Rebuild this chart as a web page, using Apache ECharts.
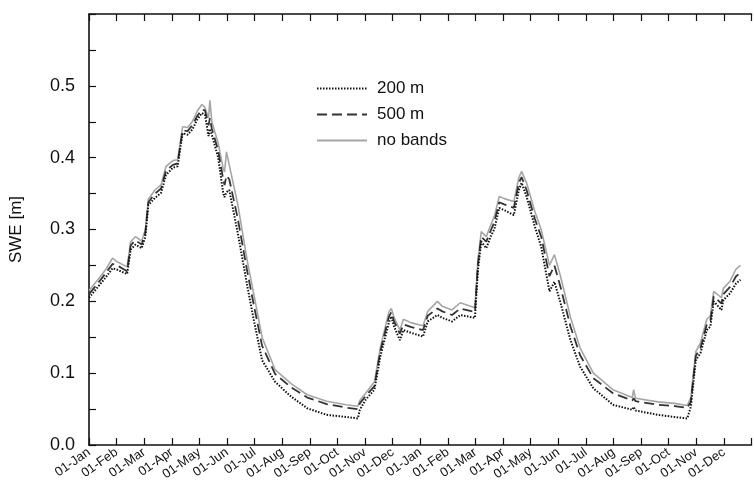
<!DOCTYPE html>
<html>
<head>
<meta charset="utf-8">
<script src="https://cdn.jsdelivr.net/npm/echarts@6/dist/echarts.min.js"></script>
<style>
  html, body { margin: 0; padding: 0; background: #fff; }
  #main { width: 754px; height: 492px; }
</style>
</head>
<body>
<div id="main"></div>
<script>
// x positions in months since 01-Jan of the first year
const months = [0, 0.32, 0.62, 0.85, 1.02, 1.38, 1.51, 1.68, 1.91, 2.04, 2.15, 2.39, 2.61, 2.79, 3.04, 3.21, 3.39, 3.57, 3.74, 3.92,
  4.09, 4.2, 4.33, 4.38, 4.45, 4.68, 4.86, 4.91, 4.98, 5.08, 5.39, 5.74, 5.97, 6.27, 6.74, 7.33, 7.91, 8.61, 9.32, 9.74,
  9.81, 10.02, 10.34, 10.55, 10.86, 10.95, 11.05, 11.26, 11.39, 11.68, 12.1, 12.27, 12.62, 12.8, 13.15, 13.45, 13.98, 14.09, 14.21, 14.39,
  14.57, 14.68, 14.86, 15.04, 15.39, 15.57, 15.67, 15.85, 16.15, 16.38, 16.68, 16.86, 17.08, 17.44, 17.79, 18.27, 18.98, 19.68, 19.73, 19.8,
  20.61, 21.21, 21.67, 21.8, 21.98, 22.15, 22.38, 22.51, 22.63, 22.91, 22.98, 23.22, 23.44, 23.6]

// SWE [m] for 200 m bands
const swe200 = [0.205, 0.22, 0.234, 0.246, 0.244, 0.238, 0.272, 0.279, 0.274, 0.29, 0.334, 0.344, 0.351, 0.376, 0.386, 0.388, 0.434, 0.432, 0.439, 0.453,
  0.462, 0.46, 0.43, 0.44, 0.432, 0.40, 0.351, 0.345, 0.352, 0.355, 0.295, 0.22, 0.174, 0.118, 0.088, 0.067, 0.051, 0.042, 0.039, 0.037,
  0.049, 0.063, 0.077, 0.123, 0.17, 0.179, 0.165, 0.146, 0.16, 0.156, 0.151, 0.172, 0.181, 0.177, 0.172, 0.181, 0.177, 0.244, 0.283, 0.274,
  0.292, 0.30, 0.33, 0.327, 0.32, 0.355, 0.365, 0.346, 0.304, 0.276, 0.214, 0.227, 0.198, 0.146, 0.109, 0.079, 0.056, 0.049, 0.053, 0.048,
  0.042, 0.039, 0.037, 0.053, 0.118, 0.128, 0.16, 0.165, 0.2, 0.188, 0.202, 0.211, 0.225, 0.23]

// SWE [m] for 500 m bands
const swe500 = [0.21, 0.225, 0.24, 0.252, 0.25, 0.242, 0.278, 0.285, 0.279, 0.295, 0.338, 0.35, 0.357, 0.382, 0.39, 0.392, 0.438, 0.437, 0.445, 0.458,
  0.467, 0.466, 0.445, 0.455, 0.44, 0.41, 0.37, 0.362, 0.375, 0.37, 0.315, 0.24, 0.195, 0.138, 0.099, 0.08, 0.066, 0.057, 0.052, 0.05,
  0.058, 0.068, 0.082, 0.13, 0.178, 0.185, 0.172, 0.155, 0.168, 0.164, 0.16, 0.18, 0.19, 0.186, 0.181, 0.19, 0.185, 0.252, 0.29, 0.283,
  0.30, 0.31, 0.338, 0.335, 0.33, 0.365, 0.373, 0.355, 0.315, 0.29, 0.235, 0.25, 0.22, 0.165, 0.125, 0.093, 0.072, 0.062, 0.065, 0.061,
  0.056, 0.054, 0.052, 0.06, 0.124, 0.135, 0.168, 0.173, 0.207, 0.197, 0.21, 0.22, 0.235, 0.24]

// SWE [m] without elevation bands
const sweNoBands = [0.215, 0.23, 0.245, 0.26, 0.255, 0.248, 0.283, 0.29, 0.284, 0.30, 0.342, 0.355, 0.362, 0.388, 0.396, 0.397, 0.443, 0.442, 0.45, 0.465,
  0.474, 0.47, 0.455, 0.48, 0.45, 0.42, 0.385, 0.38, 0.408, 0.39, 0.335, 0.255, 0.21, 0.15, 0.105, 0.085, 0.07, 0.061, 0.056, 0.054,
  0.062, 0.072, 0.088, 0.135, 0.185, 0.19, 0.178, 0.16, 0.175, 0.17, 0.166, 0.186, 0.2, 0.193, 0.188, 0.198, 0.191, 0.258, 0.297, 0.29,
  0.308, 0.318, 0.346, 0.343, 0.339, 0.372, 0.381, 0.365, 0.325, 0.30, 0.25, 0.265, 0.235, 0.178, 0.135, 0.1, 0.077, 0.066, 0.077, 0.065,
  0.06, 0.058, 0.055, 0.066, 0.13, 0.142, 0.175, 0.18, 0.214, 0.205, 0.218, 0.228, 0.245, 0.25]

const monthNames = ["Jan", "Feb", "Mar", "Apr", "May", "Jun", "Jul", "Aug", "Sep", "Oct", "Nov", "Dec"]
const seriesNames = ["200 m", "500 m", "no bands"]

const pairs = (ys) => months.map((m, i) => [m, ys[i]])

const font = "Liberation Sans, Arial, sans-serif"
const chart = echarts.init(document.getElementById("main"))

const option = {
  animation: false,
  textStyle: { fontFamily: font },
  grid: { left: 89, top: 14, bottom: 47, right: -15 },
  legend: {
    orient: "vertical",
    left: 311,
    top: 75,
    itemWidth: 50,
    itemHeight: 14,
    itemGap: 9,
    data: seriesNames,
    textStyle: { fontSize: 17, color: "#111", fontFamily: font, padding: [0, 0, 0, 5] }
  },
  xAxis: [
    {
      type: "value",
      min: 0,
      max: 24,
      interval: 1,
      axisLine: { lineStyle: { color: "#111", width: 1.6 } },
      axisTick: { inside: true, length: 7, lineStyle: { color: "#111", width: 1.2 } },
      splitLine: { show: false },
      axisLabel: {
        rotate: 35,
        margin: 6,
        fontSize: 13,
        color: "#111",
        formatter: (v) => (v < 23.5 ? "01-" + monthNames[Math.round(v) % 12] : "")
      }
    },
    {
      type: "value",
      position: "top",
      min: 0,
      max: 24,
      interval: 1,
      axisLine: { lineStyle: { color: "#111", width: 1.6 } },
      axisTick: { inside: true, length: 7, lineStyle: { color: "#111", width: 1.2 } },
      splitLine: { show: false },
      axisLabel: { show: false }
    }
  ],
  yAxis: {
    type: "value",
    min: 0,
    max: 0.6,
    interval: 0.05,
    name: "SWE [m]",
    nameLocation: "middle",
    nameGap: 64,
    nameTextStyle: { fontSize: 17, color: "#111" },
    axisLine: { show: true, lineStyle: { color: "#111", width: 1.6 } },
    axisTick: { inside: true, length: 7, lineStyle: { color: "#111", width: 1.2 } },
    splitLine: { show: false },
    axisLabel: {
      fontSize: 18,
      color: "#111",
      margin: 14,
      formatter: (v) => {
        const k = Math.round(v * 100)
        return k % 10 === 0 && k < 60 ? (k / 100).toFixed(1) : ""
      }
    }
  },
  series: [
    {
      name: seriesNames[2],
      type: "line",
      symbol: "none",
      z: 2,
      itemStyle: { color: "#a6a6a6", opacity: 0 },
      lineStyle: { color: "#a6a6a6", width: 1.6 },
      data: pairs(sweNoBands)
    },
    {
      name: seriesNames[1],
      type: "line",
      symbol: "none",
      z: 3,
      itemStyle: { color: "#333", opacity: 0 },
      lineStyle: { color: "#333", width: 1.8, type: [10, 5] },
      data: pairs(swe500)
    },
    {
      name: seriesNames[0],
      type: "line",
      symbol: "none",
      z: 4,
      itemStyle: { color: "#111", opacity: 0 },
      lineStyle: { color: "#111", width: 2, type: [1.5, 1.5] },
      data: pairs(swe200)
    }
  ]
}

chart.setOption(option)
</script>
</body>
</html>
